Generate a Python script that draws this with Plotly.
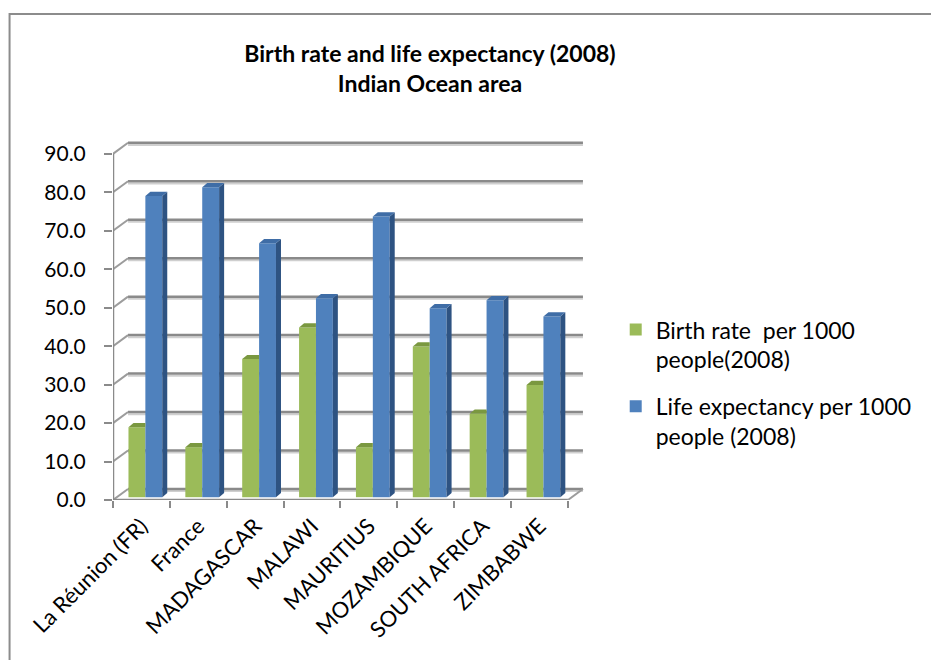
import plotly.graph_objects as go

# ---- data -------------------------------------------------------------
countries = ["La Réunion (FR)", "France", "MADAGASCAR", "MALAWI",
             "MAURITIUS", "MOZAMBIQUE", "SOUTH AFRICA", "ZIMBABWE"]
birth_rate = [18.2, 13.0, 35.9, 44.1, 13.0, 39.2, 21.7, 29.2]
life_expectancy = [78.3, 80.6, 66.0, 51.7, 73.0, 49.1, 51.2, 47.0]
y_ticks = [0, 10, 20, 30, 40, 50, 60, 70, 80, 90]

birth_name = "Birth rate  per 1000<br>people(2008)"
life_name = "Life expectancy per 1000<br>people (2008)"

# ---- styling / pseudo-3D geometry --------------------------------------
GREEN, GREEN_TOP = "#9BBB59", "#7A9840"
BLUE, BLUE_TOP, BLUE_SIDE = "#4F81BD", "#3F6DA6", "#2E5382"
GRID, GRID_SHADOW, SLANT = "#8A8A8A", "#CFCFCF", "#9C9C9C"
FONT = "Lato"

N = len(countries)
X_MIN, X_MAX = -0.5, N - 0.5 + 0.3
Y_MAX = 93.6                # front-plane axis range top
WALL_DX, WALL_DY = 0.264, 2.87   # offset from front plane to back wall
BAR_LIFT = 0.73             # bar plane sits slightly behind the front edge
BAR_W = 0.297
GREEN_OFF, BLUE_OFF = -0.228, 0.069
FACE_DX, FACE_DY = 0.088, 1.1   # depth of each column (side / top faces)

W, H = 931, 660
ML, MT = 113, 140.2
PLOT_W = (X_MAX - X_MIN) * 56.9
PLOT_H = Y_MAX * 3.839
MR = W - ML - PLOT_W
MB = H - MT - PLOT_H

fig = go.Figure()

# front faces of the columns
fig.add_trace(go.Bar(
    x=list(range(N)), y=birth_rate, name=birth_name, marker_color=GREEN,
    marker_line_width=0, width=BAR_W, offset=GREEN_OFF, yaxis="y2",
    legendgroup="b", hoverinfo="skip"))
fig.add_trace(go.Bar(
    x=list(range(N)), y=life_expectancy, name=life_name, marker_color=BLUE,
    marker_line_width=0, width=BAR_W, offset=BLUE_OFF, yaxis="y2",
    legendgroup="l", hoverinfo="skip"))


def face_trace(xs, ys, color):
    return go.Scatter(x=xs, y=ys, mode="lines", fill="toself",
                      fillcolor=color, line=dict(width=0, color=color),
                      yaxis="y2", showlegend=False, hoverinfo="skip")


# top face of the green columns (right part hidden behind the blue column)
for i, v in enumerate(birth_rate):
    x0 = i + GREEN_OFF
    x1 = x0 + BAR_W
    fig.add_trace(face_trace(
        [x0, x1, x1, x0 + FACE_DX, x0],
        [v, v, v + FACE_DY, v + FACE_DY, v], GREEN_TOP))

# side and top faces of the blue columns
for i, v in enumerate(life_expectancy):
    x0 = i + BLUE_OFF
    x1 = x0 + BAR_W
    fig.add_trace(face_trace(
        [x1, x1 + FACE_DX, x1 + FACE_DX, x1, x1],
        [0, FACE_DY, v + FACE_DY, v, 0], BLUE_SIDE))
    fig.add_trace(face_trace(
        [x0, x1, x1 + FACE_DX, x0 + FACE_DX, x0],
        [v, v, v + FACE_DY, v + FACE_DY, v], BLUE_TOP))

# back wall gridlines, left-wall slants, floor and the vertical axis line
shapes = []
for v in y_ticks:
    yb = v + WALL_DY
    shapes.append(dict(type="line", xref="x", yref="y", layer="below",
                       x0=X_MIN + WALL_DX, x1=N - 0.5 + WALL_DX,
                       y0=yb - 0.55, y1=yb - 0.55,
                       line=dict(color=GRID_SHADOW, width=2)))
    shapes.append(dict(type="line", xref="x", yref="y", layer="below",
                       x0=X_MIN + WALL_DX, x1=N - 0.5 + WALL_DX,
                       y0=yb, y1=yb, line=dict(color=GRID, width=2.5)))
    shapes.append(dict(type="line", xref="x", yref="y", layer="below",
                       x0=X_MIN, x1=X_MIN + WALL_DX, y0=v, y1=yb,
                       line=dict(color=SLANT, width=2)))
shapes += [
    dict(type="line", xref="x", yref="y", layer="below",
         x0=X_MIN, x1=N - 0.5, y0=0, y1=0, line=dict(color=GRID, width=2.5)),
    dict(type="line", xref="x", yref="y", layer="below",
         x0=N - 0.5, x1=N - 0.5 + WALL_DX, y0=0, y1=WALL_DY,
         line=dict(color=SLANT, width=2)),
    dict(type="line", xref="x", yref="y", layer="below",
         x0=X_MIN, x1=X_MIN, y0=0, y1=y_ticks[-1],
         line=dict(color=GRID, width=2.5)),
]
# outer chart border
shapes.append(dict(type="rect", xref="paper", yref="paper", layer="below",
                   x0=(9.5 - ML) / PLOT_W, x1=(W + 5 - ML) / PLOT_W,
                   y0=(MT + PLOT_H - H - 5) / PLOT_H,
                   y1=(MT + PLOT_H - 14.5) / PLOT_H,
                   line=dict(color="#8C8C8C", width=2)))

fig.update_layout(
    width=W, height=H,
    margin=dict(l=ML, r=MR, t=MT, b=MB, pad=0),
    paper_bgcolor="white", plot_bgcolor="rgba(0,0,0,0)",
    barmode="overlay",
    font=dict(family=FONT, color="#000000"),
    title=dict(text="<b>Birth rate and life expectancy (2008)<br>Indian Ocean area</b>",
               x=430 / W, xanchor="center", xref="container",
               y=1 - 62 / H, yanchor="top", yref="container",
               font=dict(family=FONT, size=23, color="#000000")),
    xaxis=dict(range=[X_MIN, X_MAX], tickmode="array",
               tickvals=list(range(N)), ticktext=countries,
               tickangle=-45, ticks="", showgrid=False, zeroline=False,
               showline=False, ticklabelstandoff=8,
               tickfont=dict(size=22, family=FONT),
               minor=dict(tickmode="array",
                          tickvals=[k - 0.5 for k in range(N + 1)],
                          ticks="outside", ticklen=7, tickwidth=2,
                          tickcolor=GRID, showgrid=False)),
    yaxis=dict(range=[0, Y_MAX], tickmode="array", tickvals=y_ticks,
               ticktext=[f"{t:.1f}" for t in y_ticks],
               ticks="outside", ticklen=8, tickwidth=2, tickcolor=GRID,
               ticklabelstandoff=14,
               showgrid=False, zeroline=False, showline=False,
               tickfont=dict(size=21, family=FONT)),
    yaxis2=dict(range=[-BAR_LIFT, Y_MAX - BAR_LIFT], overlaying="y",
                visible=False, showgrid=False, zeroline=False),
    legend=dict(x=(616 - ML) / PLOT_W, xanchor="left",
                y=(MT + PLOT_H - 308) / PLOT_H, yanchor="top",
                font=dict(size=23, family=FONT), valign="top",
                traceorder="grouped", tracegroupgap=14,
                bgcolor="rgba(0,0,0,0)"),
    shapes=shapes,
)

fig.write_html("out.html")
